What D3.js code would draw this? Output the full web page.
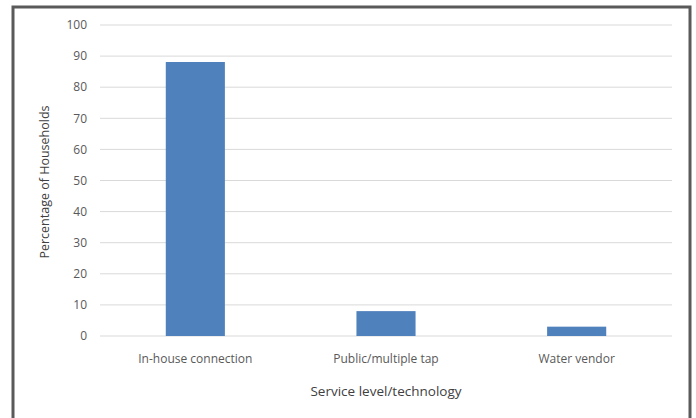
<!DOCTYPE html>
<html>
<head>
<meta charset="utf-8">
<script src="https://cdn.jsdelivr.net/npm/d3@7"></script>
<style>
  body { margin: 0; background: #fff; }
  svg { display: block; font-family: "Open Sans", "Noto Sans", sans-serif; }
</style>
</head>
<body>
<div id="chart"></div>
<script>
const categories = ["In-house connection", "Public/multiple tap", "Water vendor"];
const values = [88.1, 8.0, 3.0];
const yTicks = [0, 10, 20, 30, 40, 50, 60, 70, 80, 90, 100];

const width = 696, height = 418;
const svg = d3.select("#chart").append("svg")
  .attr("width", width)
  .attr("height", height);

// outer frame
svg.append("rect")
  .attr("x", 13).attr("y", 7)
  .attr("width", 677).attr("height", 420)
  .attr("fill", "#fff")
  .attr("stroke", "#5a5a5a")
  .attr("stroke-width", 3);

const x = d3.scaleBand()
  .domain(categories)
  .range([100, 672])
  .paddingInner(0.69)
  .paddingOuter(0.345);

const y = d3.scaleLinear()
  .domain([0, 100])
  .range([336, 25]);

// gridlines
svg.append("g")
  .selectAll("line")
  .data(yTicks)
  .join("line")
  .attr("x1", 100).attr("x2", 672)
  .attr("y1", d => y(d)).attr("y2", d => y(d))
  .attr("stroke", "#d9d9d9")
  .attr("stroke-width", 1);

// y tick labels
svg.append("g")
  .selectAll("text")
  .data(yTicks)
  .join("text")
  .attr("x", 87)
  .attr("y", d => y(d))
  .attr("dy", "0.35em")
  .attr("text-anchor", "end")
  .attr("fill", "#595959")
  .style("font-size", "12px")
  .text(d => d);

svg.selectAll(".bar")
  .data(values)
  .join("rect")
  .attr("class", "bar")
  .attr("x", (d, i) => x(categories[i]))
  .attr("y", d => y(d))
  .attr("width", x.bandwidth())
  .attr("height", d => y(0) - y(d))
  .attr("fill", "#4f81bd");

// category labels
svg.append("g")
  .selectAll("text")
  .data(categories)
  .join("text")
  .attr("x", d => x(d) + x.bandwidth() / 2)
  .attr("y", 359)
  .attr("dy", "0.35em")
  .attr("text-anchor", "middle")
  .attr("fill", "#595959")
  .style("font-size", "12px")
  .text(d => d);

svg.append("text")
  .attr("x", 386)
  .attr("y", 391)
  .attr("dy", "0.35em")
  .attr("text-anchor", "middle")
  .attr("fill", "#404040")
  .style("font-size", "13.5px")
  .text("Service level/technology");

svg.append("text")
  .attr("transform", "translate(45,182) rotate(-90)")
  .attr("dy", "0.35em")
  .attr("text-anchor", "middle")
  .attr("fill", "#404040")
  .style("font-size", "12.5px")
  .text("Percentage of Households");
</script>
</body>
</html>
